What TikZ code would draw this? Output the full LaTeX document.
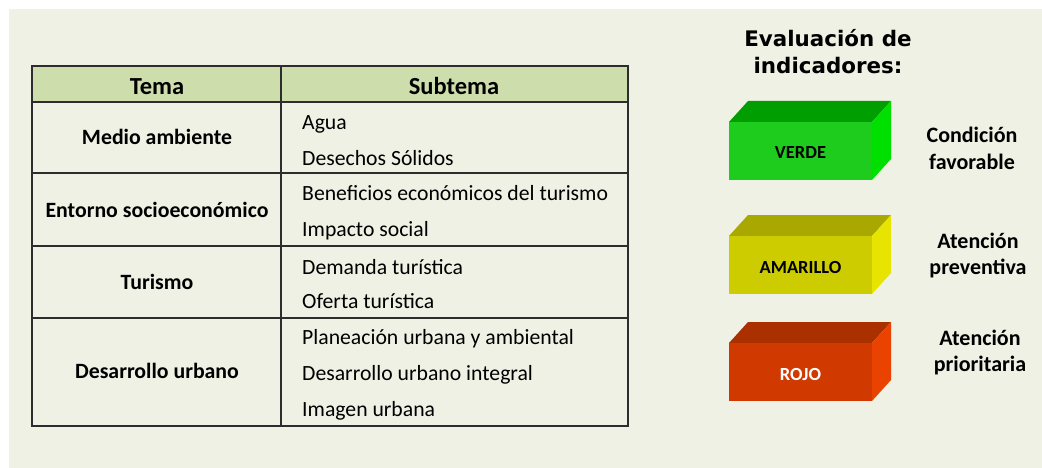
\documentclass[tikz,border=0pt]{standalone}
\usepackage{fontspec}
\setmainfont{Carlito}
\newfontfamily\titlefont{DejaVu Sans}
\usetikzlibrary{positioning}
\definecolor{panel}{RGB}{238,241,228}
\definecolor{header}{RGB}{205,221,172}
\definecolor{rule}{RGB}{45,45,45}
\definecolor{verdeF}{RGB}{30,204,30}
\definecolor{verdeT}{RGB}{0,158,0}
\definecolor{verdeR}{RGB}{0,224,0}
\definecolor{amaF}{RGB}{204,204,0}
\definecolor{amaT}{RGB}{168,168,0}
\definecolor{amaR}{RGB}{230,228,0}
\definecolor{rojoF}{RGB}{208,58,0}
\definecolor{rojoT}{RGB}{170,48,0}
\definecolor{rojoR}{RGB}{234,66,0}
\tikzset{
    tabline/.style = {draw=rule,line width=1.6pt},
    headtext/.style = {font=\fontsize{24.5}{28}\selectfont\bfseries,anchor=base,inner sep=0pt},
    tematext/.style = {font=\fontsize{21.8}{26}\selectfont\bfseries,anchor=base,inner sep=0pt},
    subtext/.style = {font=\fontsize{21.7}{26}\selectfont,anchor=base west,inner sep=0pt},
    boxtext/.style = {font=\fontsize{18.5}{22}\selectfont\bfseries,anchor=base,inner sep=0pt},
    evaltext/.style = {font=\fontsize{22}{26.5}\selectfont\bfseries,align=center,anchor=base,inner sep=0pt}, % base = last line
    titletext/.style = {font=\titlefont\fontsize{21.4}{27}\selectfont\bfseries,align=center,anchor=base,inner sep=0pt}
}

\begin{document}
\begin{tikzpicture}[x=1pt,y=-1pt]
\useasboundingbox (0,0) rectangle (1042,468);
\fill[panel] (9,9) rectangle (1042,468);
%
% tabla
\fill[header] (32,66) rectangle (628,102);
\draw[tabline] (32,66) rectangle (628,426);
\draw[tabline] (281,66) -- (281,426);
\foreach \y in {102,173,246,318}
  \draw[tabline] (32,\y) -- (628,\y);
\node[headtext] at (157,95) (tema) {Tema};
\node[headtext] at (454,95) (subtema) {Subtema};
%
\node[tematext] at (157,145) (t1) {Medio ambiente};
\node[tematext] at (157,217) (t2) {Entorno socioeconómico};
\node[tematext] at (157,289) (t3) {Turismo};
\node[tematext] at (157,378) (t4) {Desarrollo urbano};
%
\node[subtext] at (302,130) (s1) {Agua};
\node[subtext] at (302,165.5) (s2) {Desechos Sólidos};
\node[subtext] at (302,200.5) (s3) {Beneficios económicos del turismo};
\node[subtext] at (302,236.5) (s4) {Impacto social};
\node[subtext] at (302,274) (s5) {Demanda turística};
\node[subtext] at (302,308) (s6) {Oferta turística};
\node[subtext] at (302,344) (s7) {Planeación urbana y ambiental};
\node[subtext] at (302,380) (s8) {Desarrollo urbano integral};
\node[subtext] at (302,416) (s9) {Imagen urbana};
%
% indicadores
\node[titletext] at (828,74) (titulo) {Evaluación de\\indicadores:};
\foreach \y/\nm/\c/\tc/\txt in {101/verde/verde/black/VERDE,215/amarillo/ama/black/AMARILLO,322/rojo/rojo/white/ROJO}{
  \fill[\c T] (729,\y+21) -- (748,\y) -- (891,\y) -- (872,\y+21) -- cycle;
  \fill[\c R] (872,\y+21) -- (891,\y) -- (891,\y+58) -- (872,\y+79) -- cycle;
  \fill[\c F] (729,\y+21) rectangle (872,\y+79);
  \node[boxtext,text=\tc] at (800.5,\y+58) (\nm) {\txt};
}
\node[evaltext] at (972,169.2) (lverde) {Condición\\favorable};
\node[evaltext] at (978,274.5) (lamarillo) {Atención\\preventiva};
\node[evaltext] at (980,371.5) (lrojo) {Atención\\prioritaria};
\end{tikzpicture}
\end{document}
